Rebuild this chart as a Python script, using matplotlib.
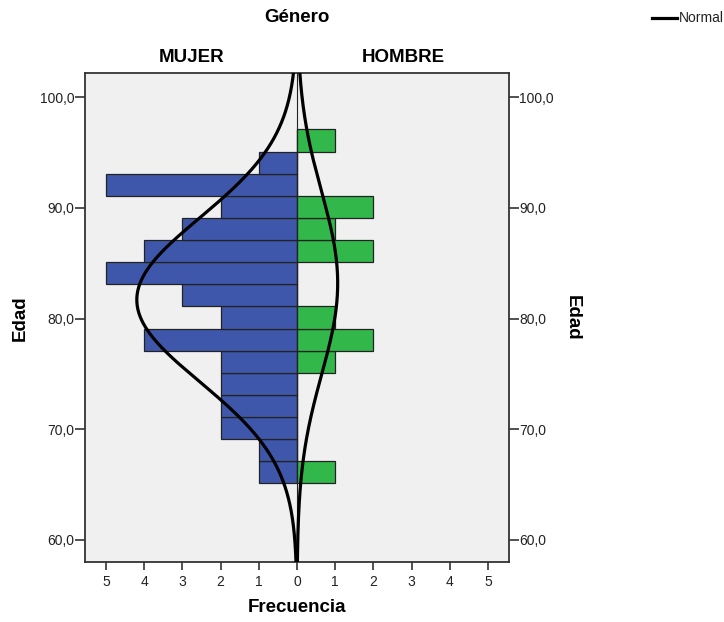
import numpy as np
import matplotlib
matplotlib.use("Agg")
import matplotlib.pyplot as plt
from matplotlib.lines import Line2D

plt.rcParams['font.family'] = ['Liberation Sans', 'DejaVu Sans']

# Data
bin_edges = [65.1, 67.1, 69.1, 71.1, 73.1, 75.1, 77.1, 79.1, 81.1, 83.1,
             85.1, 87.1, 89.1, 91.1, 93.1, 95.1, 97.1]
mujer_counts = [1, 1, 2, 2, 2, 2, 4, 2, 3, 5, 4, 3, 2, 5, 1, 0]
hombre_counts = [1, 0, 0, 0, 0, 1, 2, 1, 0, 0, 2, 1, 2, 0, 0, 1]
mujer_mean, mujer_sd = 81.7, 7.42
hombre_mean, hombre_sd = 83.2, 8.24
y_ticks = [60, 70, 80, 90, 100]
x_ticks = [-5, -4, -3, -2, -1, 0, 1, 2, 3, 4, 5]

blue = '#3E57AB'
green = '#31B74A'
edge = '#222222'

W, H = 724, 622
fig = plt.figure(figsize=(W/100, H/100), dpi=100)
ax = fig.add_axes([85/W, 1-562/H, (509-85)/W, (562-73)/H])
ax.set_facecolor('#F0F0F0')

edges = np.array(bin_edges)
bw = np.diff(edges)
ax.barh(edges[:-1], [-c for c in mujer_counts], height=bw, align='edge',
        color=blue, edgecolor=edge, linewidth=0.9, zorder=2)
ax.barh(edges[:-1], hombre_counts, height=bw, align='edge',
        color=green, edgecolor=edge, linewidth=0.9, zorder=2)

ax.axvline(0, color='#222222', lw=0.8, zorder=3)

yy = np.linspace(56, 104, 600)
def normal(mean, sd, n, width):
    return n * width / (sd * np.sqrt(2*np.pi)) * np.exp(-0.5*((yy-mean)/sd)**2)
nf = normal(mujer_mean, mujer_sd, sum(mujer_counts), 2.0)
nm = normal(hombre_mean, hombre_sd, sum(hombre_counts), 2.0)
ax.plot(-nf, yy, color='black', lw=2.3, zorder=4)
ax.plot(nm, yy, color='black', lw=2.3, zorder=4)

ax.set_ylim(58.0, 102.2)
ax.set_xlim(-5.55, 5.55)

ax.set_yticks(y_ticks)
ax.set_yticklabels([f"{v:.1f}".replace('.', ',') for v in y_ticks])
ax.set_xticks(x_ticks)
ax.set_xticklabels([str(abs(v)) for v in x_ticks])
ax.tick_params(axis='y', which='both', left=True, right=True, labelleft=True,
               labelright=True, length=7, width=1.2, color='#333333',
               labelsize=10, labelcolor='#222222', pad=0.5)
ax.tick_params(axis='x', length=6, width=1.2, color='#333333', labelsize=10,
               labelcolor='#222222', pad=3)
for s in ax.spines.values():
    s.set_color('#333333')
    s.set_linewidth(1.3)

fs = 13.5
fig.text(297/W, 1-18/H, 'Género', ha='center', va='center', fontsize=fs, fontweight='bold')
fig.text(192/W, 1-57/H, 'MUJER', ha='center', va='center', fontsize=fs, fontweight='bold')
fig.text(403/W, 1-57/H, 'HOMBRE', ha='center', va='center', fontsize=fs, fontweight='bold')
fig.text(297/W, 1-607/H, 'Frecuencia', ha='center', va='center', fontsize=fs, fontweight='bold')
fig.text(20/W, 1-318/H, 'Edad', ha='center', va='center', rotation=90, fontsize=fs, fontweight='bold')
fig.text(572/W, 1-318/H, 'Edad', ha='center', va='center', rotation=270, fontsize=fs, fontweight='bold')

# legend
fig.add_artist(Line2D([652/W, 677/W], [1-18/H, 1-18/H], color='black', lw=2.3,
                      transform=fig.transFigure))
fig.text(679/W, 1-18/H, 'Normal', ha='left', va='center', fontsize=10, color='#222222')

fig.savefig('out.png', dpi=100, facecolor='white')
